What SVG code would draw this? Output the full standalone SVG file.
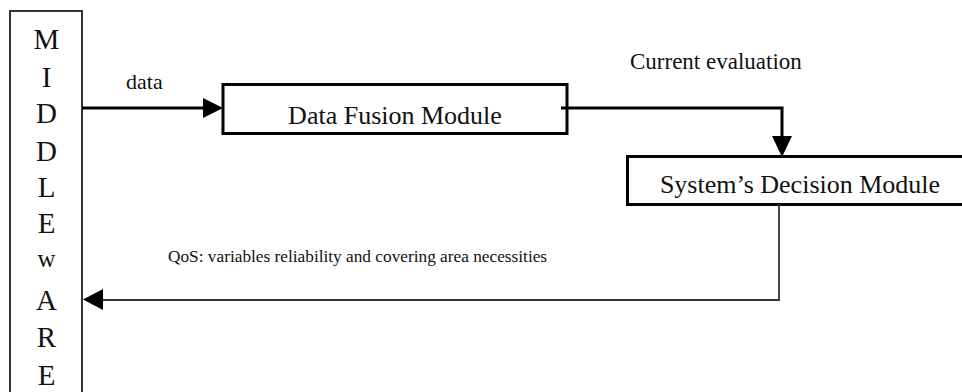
<svg xmlns="http://www.w3.org/2000/svg" width="962" height="392" viewBox="0 0 962 392">
<style>
.t{font-family:"Liberation Serif","Times New Roman",serif;fill:#111}
.box{fill:#fff;stroke:#000;stroke-width:3}
.thin{fill:none;stroke:#333;stroke-width:2}
.thick{fill:none;stroke:#000;stroke-width:3}
.thinw{fill:none;stroke:#333;stroke-width:1.8}
</style>
<rect width="962" height="392" fill="#fff"/>
<g id="middleware">
<path class="thin" d="M10,392 V11 H82 V392"/>
<g class="t" font-size="29" text-anchor="middle">
<text x="46.5" y="49">M</text>
<text x="46.5" y="87">I</text>
<text x="46.5" y="123">D</text>
<text x="46.5" y="161">D</text>
<text x="46.5" y="197">L</text>
<text x="46.5" y="233">E</text>
<text x="46.5" y="267" font-size="25">w</text>
<text x="46.5" y="310">A</text>
<text x="46.5" y="347">R</text>
<text x="46.5" y="385">E</text>
</g>
</g>
<g id="data-fusion">
<rect class="box" x="223" y="84.5" width="344" height="49"/>
<text class="t" x="395" y="124" font-size="26" text-anchor="middle">Data Fusion Module</text>
</g>
<g id="decision">
<rect class="box" x="627.5" y="156.5" width="350" height="48"/>
<text class="t" x="800" y="193" font-size="26" text-anchor="middle">System’s Decision Module</text>
</g>
<g id="connectors">
<line class="thick" x1="82" y1="108" x2="206" y2="108"/>
<polygon points="203,98 223,108 203,118" fill="#000"/>
<text class="t" x="126" y="89" font-size="22">data</text>
<polyline class="thick" points="561,108 782,108 782,138"/>
<polygon points="772,136 792,136 782,157" fill="#000"/>
<text class="t" x="630" y="69" font-size="23">Current evaluation</text>
<polyline class="thinw" points="779,204 779,300 100,300"/>
<polygon points="103,289 83,299.5 103,310" fill="#000"/>
<text class="t" x="168" y="262" font-size="17.3">QoS: variables reliability and covering area necessities</text>
</g>
</svg>
